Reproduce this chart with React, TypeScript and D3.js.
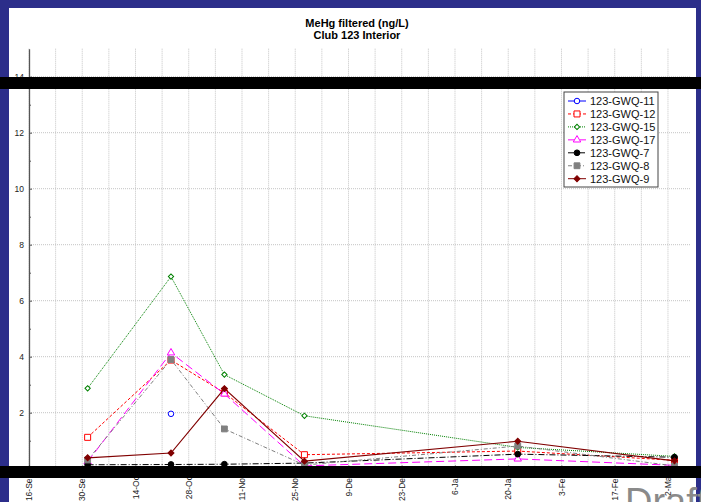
import React, { useRef, useEffect } from 'react';
import * as d3 from "d3";

const width = 701;
const height = 502;
const margin = ({ top: 48.7, left: 29, bottom: 468.7, right: 690.8 });

// sampling dates and results (ng/L)
const sampleDates = ["2011-10-01 10:00", "2011-10-23 08:00", "2011-11-06 09:00", "2011-11-27 10:00", "2012-01-22 12:00", "2012-03-03 17:00"];
const seriesNames = ["123-GWQ-11", "123-GWQ-12", "123-GWQ-15", "123-GWQ-17", "123-GWQ-7", "123-GWQ-8", "123-GWQ-9"];
const gwq11 = [null, 1.96, null, null, null, null];
const gwq12 = [1.12, 3.88, 2.71, 0.5, 0.63, 0.3];
const gwq15 = [2.87, 6.86, 3.36, 1.89, 0.76, 0.44];
const gwq17 = [0.25, 4.14, 2.67, 0.1, 0.35, 0.12];
const gwq7 = [0.14, 0.15, 0.16, 0.2, 0.52, 0.41];
const gwq8 = [0.31, 3.9, 1.42, 0.13, 0.81, 0.1];
const gwq9 = [0.39, 0.56, 2.86, 0.27, 0.98, 0.28];
const seriesValues = [gwq11, gwq12, gwq15, gwq17, gwq7, gwq8, gwq9];

const xTickDates = ["2011-09-16", "2011-09-30", "2011-10-14", "2011-10-28", "2011-11-11", "2011-11-25", "2011-12-09", "2011-12-23", "2012-01-06", "2012-01-20", "2012-02-03", "2012-02-17", "2012-03-02"];
const yTicks = [0, 2, 4, 6, 8, 10, 12, 14];
const yMinorTicks = [1, 3, 5, 7, 9, 11, 13];

const styles: Record<string, any> = {
    "123-GWQ-11": { color: "#0000ff", dash: null, symbol: d3.symbolCircle, size: 24, fill: false, rotate: 0 },
    "123-GWQ-12": { color: "#ff0000", dash: "3,2", symbol: d3.symbolSquare, size: 36, fill: false, rotate: 0 },
    "123-GWQ-15": { color: "#008000", dash: "1,1", symbol: d3.symbolSquare, size: 14, fill: false, rotate: 45 },
    "123-GWQ-17": { color: "#ff00ff", dash: "8,4", symbol: d3.symbolTriangle, size: 24, fill: false, rotate: 0 },
    "123-GWQ-7": { color: "#000000", dash: "6,2,1,2", symbol: d3.symbolCircle, size: 26, fill: true, rotate: 0 },
    "123-GWQ-8": { color: "#808080", dash: "4,2,1,2", symbol: d3.symbolSquare, size: 34, fill: true, rotate: 0 },
    "123-GWQ-9": { color: "#800000", dash: null, symbol: d3.symbolSquare, size: 18, fill: true, rotate: 45 },
};

const font = "'Liberation Sans', Arial, sans-serif";

export default function App() {
    const d3Container = useRef<SVGSVGElement>(null);

    useEffect(() => {
        if (!d3Container.current) return;
        const svg = d3.select(d3Container.current);
        svg.selectAll("*").remove();

        const parseDay = d3.timeParse("%Y-%m-%d");
        const parseTime = d3.timeParse("%Y-%m-%d %H:%M");
        const dates = sampleDates.map(d => parseTime(d) as Date);
        const tickDates = xTickDates.map(d => parseDay(d) as Date);
        const start = tickDates[0];

        const x = d3.scaleTime()
            .domain([start, d3.timeDay.offset(start, 174)])
            .range([margin.left, margin.right]);
        const y = d3.scaleLinear()
            .domain([0, 15])
            .range([margin.bottom, margin.top]);

        // frame
        svg.append("rect").attr("width", width).attr("height", height).attr("fill", "#2c2e8a");
        svg.append("rect").attr("x", 9).attr("y", 8).attr("width", 687).attr("height", height).attr("fill", "#ffffff");

        // title
        const title = svg.append("g").attr("font-family", font).attr("font-size", 11)
            .attr("font-weight", "bold").attr("text-anchor", "middle");
        title.append("text").attr("x", 357).attr("y", 27).text("MeHg filtered (ng/L)");
        title.append("text").attr("x", 357).attr("y", 39).text("Club 123 Interior");

        // grid
        const weekly = d3.range(0, 175, 7).map(d => d3.timeDay.offset(start, d));
        svg.append("g")
            .selectAll("line")
            .data(weekly)
            .join("line")
            .attr("x1", d => x(d)).attr("x2", d => x(d))
            .attr("y1", margin.top).attr("y2", margin.bottom)
            .attr("stroke", "#c4c4c4").attr("stroke-dasharray", "1,1");
        svg.append("g")
            .selectAll("line")
            .data(yTicks)
            .join("line")
            .attr("x1", margin.left).attr("x2", margin.right)
            .attr("y1", d => y(d)).attr("y2", d => y(d))
            .attr("stroke", "#c4c4c4").attr("stroke-dasharray", "1,1");

        // axes
        svg.append("g")
            .attr("transform", `translate(${margin.left},0)`)
            .call(d3.axisLeft(y).tickValues(yMinorTicks).tickSize(-2).tickSizeOuter(0).tickFormat(() => ""))
            .call(g => g.select(".domain").remove())
            .call(g => g.selectAll("line").attr("stroke", "#555"));
        svg.append("g")
            .attr("transform", `translate(${margin.left},0)`)
            .call(d3.axisLeft(y).tickValues(yTicks).tickSize(-3).tickSizeOuter(0).tickPadding(5))
            .call(g => g.select(".domain").attr("stroke", "#555").attr("stroke-width", 1.3))
            .call(g => g.selectAll("line").attr("stroke", "#555"))
            .call(g => g.selectAll("text").attr("font-family", font).attr("font-size", 8.5).attr("fill", "#222"));

        svg.append("g")
            .attr("transform", `translate(0,${margin.bottom})`)
            .call(d3.axisBottom(x).tickValues(tickDates).tickSize(-3).tickSizeOuter(0)
                .tickFormat(d => d3.timeFormat("%-d-%b")(d as Date)))
            .call(g => g.select(".domain").attr("stroke", "#555"))
            .call(g => g.selectAll("text")
                .attr("font-family", font).attr("font-size", 8.5).attr("fill", "#222")
                .attr("transform", "rotate(-90)")
                .attr("text-anchor", "end")
                .attr("x", -5).attr("y", 0).attr("dy", "0.32em"));

        // series
        const line = d3.line<any>()
            .defined(d => d.value != null)
            .x(d => x(d.date))
            .y(d => y(d.value));

        const drawSymbol = (g: any, st: any) => g
            .attr("d", d3.symbol(st.symbol, st.size)())
            .attr("fill", st.fill ? st.color : "#ffffff")
            .attr("stroke", st.color)
            .attr("stroke-width", 1);

        seriesNames.forEach((name, i) => {
            const st = styles[name];
            const data = seriesValues[i].map((v, j) => ({ date: dates[j], value: v }));
            svg.append("path")
                .datum(data)
                .attr("fill", "none")
                .attr("stroke", st.color)
                .attr("stroke-width", name === "123-GWQ-9" ? 1.2 : 1)
                .attr("stroke-dasharray", st.dash)
                .attr("d", line);
            svg.append("g")
                .selectAll("path")
                .data(data.filter(d => d.value != null))
                .join("path")
                .attr("transform", d => `translate(${x(d.date)},${y(d.value as number)}) rotate(${st.rotate})`)
                .call(drawSymbol, st);
        });

        // legend
        const legend = svg.append("g").attr("font-family", font).attr("font-size", 11);
        legend.append("rect")
            .attr("x", 564).attr("y", 92).attr("width", 94).attr("height", 95)
            .attr("fill", "#ffffff").attr("stroke", "#444");
        seriesNames.forEach((name, i) => {
            const st = styles[name];
            const ry = 101 + i * 12.95;
            legend.append("line")
                .attr("x1", 568).attr("x2", 586).attr("y1", ry).attr("y2", ry)
                .attr("stroke", st.color).attr("stroke-dasharray", st.dash);
            legend.append("path")
                .attr("transform", `translate(577,${ry}) rotate(${st.rotate})`)
                .call(drawSymbol, st);
            legend.append("text")
                .attr("x", 590).attr("y", ry).attr("dy", "0.35em")
                .attr("fill", "#111")
                .text(name);
        });

        // redaction bars
        svg.append("rect").attr("x", 0).attr("y", 77).attr("width", width).attr("height", 12).attr("fill", "#000");
        svg.append("rect").attr("x", 0).attr("y", 466).attr("width", width).attr("height", 12).attr("fill", "#000");

        // watermark
        svg.append("text")
            .attr("x", 625).attr("y", 515)
            .attr("font-family", font).attr("font-size", 38)
            .attr("fill", "#8a8a8a")
            .text("Draft");
    }, []);

    return (
        <svg ref={d3Container} width={width} height={height}
            style={{ position: "absolute", left: 0, top: 0 }} />
    );
}
